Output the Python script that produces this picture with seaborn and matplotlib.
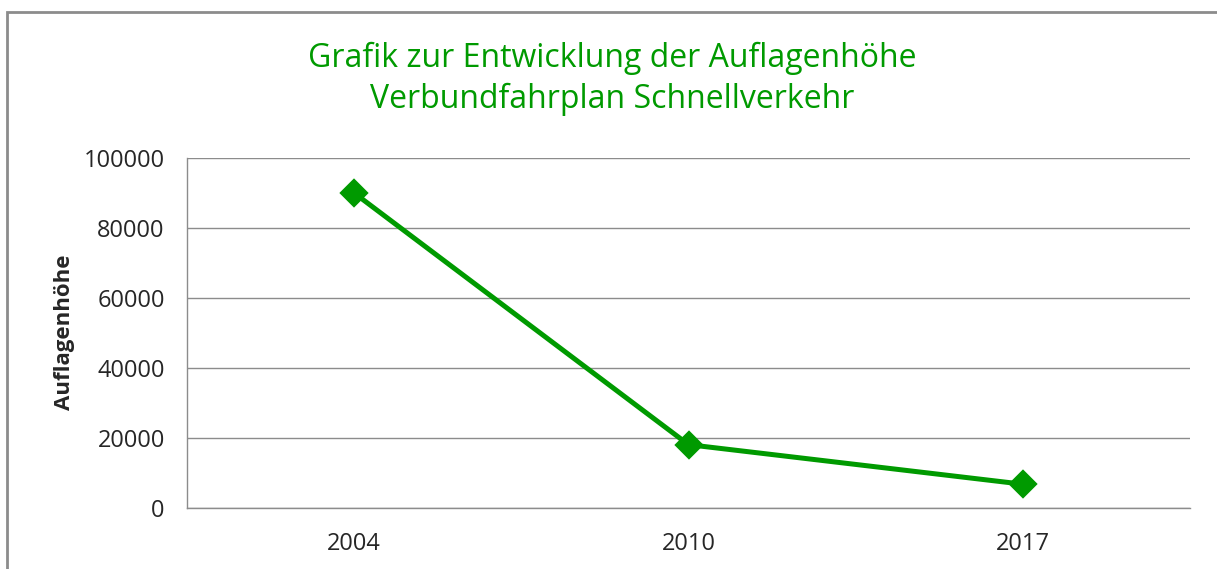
import matplotlib
matplotlib.use("Agg")
import matplotlib.pyplot as plt
import matplotlib.patches as mpatches
import seaborn as sns
import pandas as pd

years = ["2004", "2010", "2017"]
auflage = [90000, 18100, 6800]

title = "Grafik zur Entwicklung der Auflagenhöhe\nVerbundfahrplan Schnellverkehr"
ylabel = "Auflagenhöhe"

green = "#009a00"
grid_gray = "#8c8c8c"


def main():
    sns.set_style("white")
    plt.rcParams["font.family"] = ["Open Sans", "DejaVu Sans"]

    df = pd.DataFrame({"Jahr": years, "Auflage": auflage})

    fig = plt.figure(figsize=(12.17, 5.69), dpi=100)
    ax = fig.add_axes([187 / 1217, 1 - 508 / 569, 1003 / 1217, 350 / 569])

    sns.pointplot(
        data=df, x="Jahr", y="Auflage",
        color=green, markers="D", linestyles="-",
        markersize=12.5, linewidth=3.6, ax=ax,
    )

    ax.set_ylim(0, 100000)
    ax.set_xlim(-0.5, 2.5)
    ax.set_yticks(range(0, 100001, 20000))
    ax.yaxis.grid(True, color=grid_gray, linewidth=1)
    ax.set_axisbelow(True)
    ax.tick_params(axis="both", length=0, labelsize=17, colors="#262626")
    ax.tick_params(axis="y", pad=16)
    ax.tick_params(axis="x", pad=17)

    for side in ["top", "right"]:
        ax.spines[side].set_visible(False)
    for side in ["left", "bottom"]:
        ax.spines[side].set_color(grid_gray)
        ax.spines[side].set_linewidth(1)

    ax.set_xlabel("")
    ax.set_ylabel(ylabel, fontsize=16, fontweight="bold")
    ax.yaxis.set_label_coords(-0.112, 0.503)

    fig.text(612 / 1217, 1 - 79 / 569, title, ha="center", va="center",
             color=green, fontsize=23, linespacing=1.3)

    # outer chart border
    fig.patches.append(mpatches.Rectangle(
        (7 / 1217, -0.1), 1.2, 1.1 - 12 / 569,
        transform=fig.transFigure, fill=False,
        edgecolor=grid_gray, linewidth=2,
    ))

    fig.savefig("out.png", dpi=100)


if __name__ == "__main__":
    main()
